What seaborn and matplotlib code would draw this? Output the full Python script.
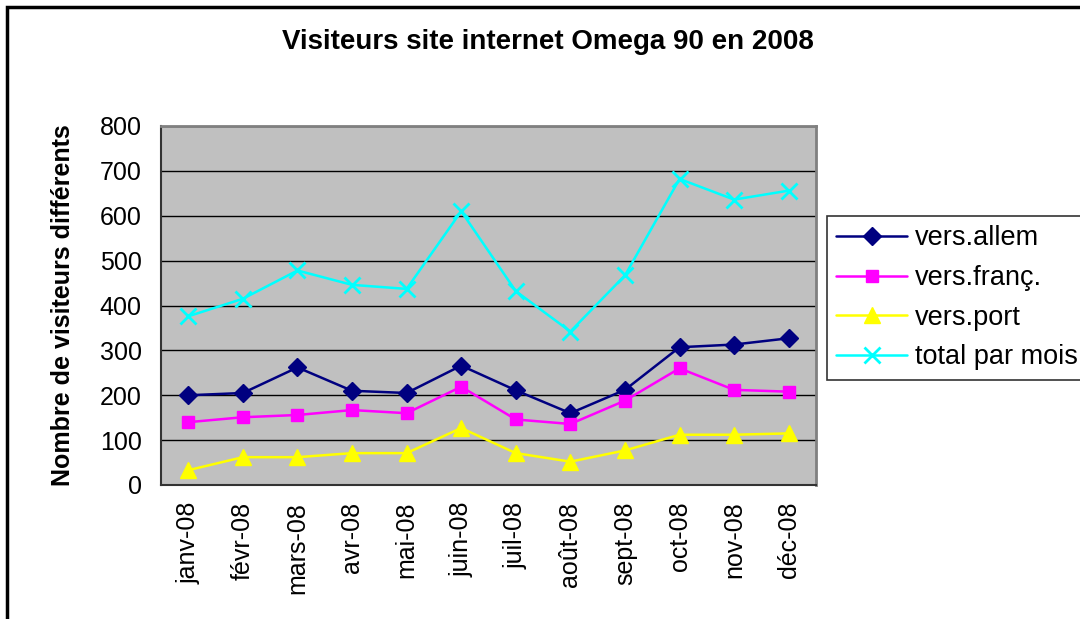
import matplotlib
matplotlib.use('Agg')
import matplotlib.pyplot as plt
import seaborn as sn
from matplotlib.patches import Rectangle
from matplotlib.ticker import FixedLocator

mois = ['janv-08', 'févr-08', 'mars-08', 'avr-08', 'mai-08', 'juin-08',
        'juil-08', 'août-08', 'sept-08', 'oct-08', 'nov-08', 'déc-08']
allem = [200, 205, 262, 210, 205, 266, 211, 160, 212, 307, 313, 327]
franc = [140, 151, 156, 167, 160, 219, 146, 136, 188, 260, 212, 208]
port = [33, 62, 62, 71, 71, 127, 71, 52, 77, 112, 112, 115]
total = [376, 415, 478, 446, 437, 610, 432, 342, 467, 682, 636, 656]

sn.set_style('white')
plt.rcParams['font.family'] = ['Liberation Sans', 'DejaVu Sans']
plt.rcParams['text.color'] = 'black'
plt.rcParams['axes.labelcolor'] = 'black'
plt.rcParams['xtick.labelcolor'] = 'black'
plt.rcParams['ytick.labelcolor'] = 'black'

fig = plt.figure(figsize=(10.8, 6.19), dpi=100)
ax = fig.add_axes([161 / 1080, 1 - 485 / 619, (816 - 161) / 1080, (485 - 126) / 619])
ax.set_facecolor('#C0C0C0')

# cadre autour du graphique
fig.patches.append(Rectangle((7 / 1080, -0.1), 1.2, 1 - 7 / 619 + 0.1, transform=fig.transFigure,
                             fill=False, edgecolor='black', linewidth=2.5))

series = [
    ('vers.allem', allem, '#000080', 'D', 9, 1),
    ('vers.franç.', franc, '#FF00FF', 's', 9, 1),
    ('vers.port', port, '#FFFF00', '^', 11, 1),
    ('total par mois', total, '#00FFFF', 'x', 11, 2),
]
for nom, vals, col, mk, ms, mew in series:
    sn.lineplot(x=mois, y=vals, ax=ax, color=col, marker=mk, markersize=ms,
                markeredgewidth=mew, markeredgecolor=col, linewidth=1.8, label=nom, sort=False)

ax.set_ylim(0, 800)
ax.set_xlim(-0.5, 11.5)
ax.set_yticks(range(0, 801, 100))
ax.yaxis.grid(True, color='black', linewidth=1)
ax.set_axisbelow(True)
ax.xaxis.set_minor_locator(FixedLocator([i - 0.5 for i in range(13)]))
ax.tick_params(axis='x', which='major', length=0, labelsize=18, rotation=90, pad=12)
ax.tick_params(axis='x', which='minor', length=8, width=1.2, direction='out', color='#333333')
ax.tick_params(axis='y', length=8, width=1.2, direction='out', labelsize=18, color='#333333', pad=6)
for s in ['top', 'right']:
    ax.spines[s].set_color('#808080')
    ax.spines[s].set_linewidth(2)
for s in ['left', 'bottom']:
    ax.spines[s].set_color('#333333')
    ax.spines[s].set_linewidth(1.5)

ax.set_xlabel('')
ax.set_ylabel('Nombre de visiteurs différents', fontsize=18, fontweight='bold', labelpad=18)
fig.text(548 / 1080, 1 - 42 / 619, 'Visiteurs site internet Omega 90 en 2008',
         ha='center', va='center', fontsize=20, fontweight='bold')

leg = ax.legend(loc='upper left', bbox_to_anchor=(827 / 1080, 1 - 216 / 619),
                bbox_transform=fig.transFigure, fontsize=19.5, frameon=True, fancybox=False,
                handlelength=2.6, handletextpad=0.3, borderpad=0.35, labelspacing=0.5,
                borderaxespad=0)
leg.get_frame().set_edgecolor('black')
leg.get_frame().set_linewidth(1.2)

fig.savefig('out.png', dpi=100, facecolor='white')
